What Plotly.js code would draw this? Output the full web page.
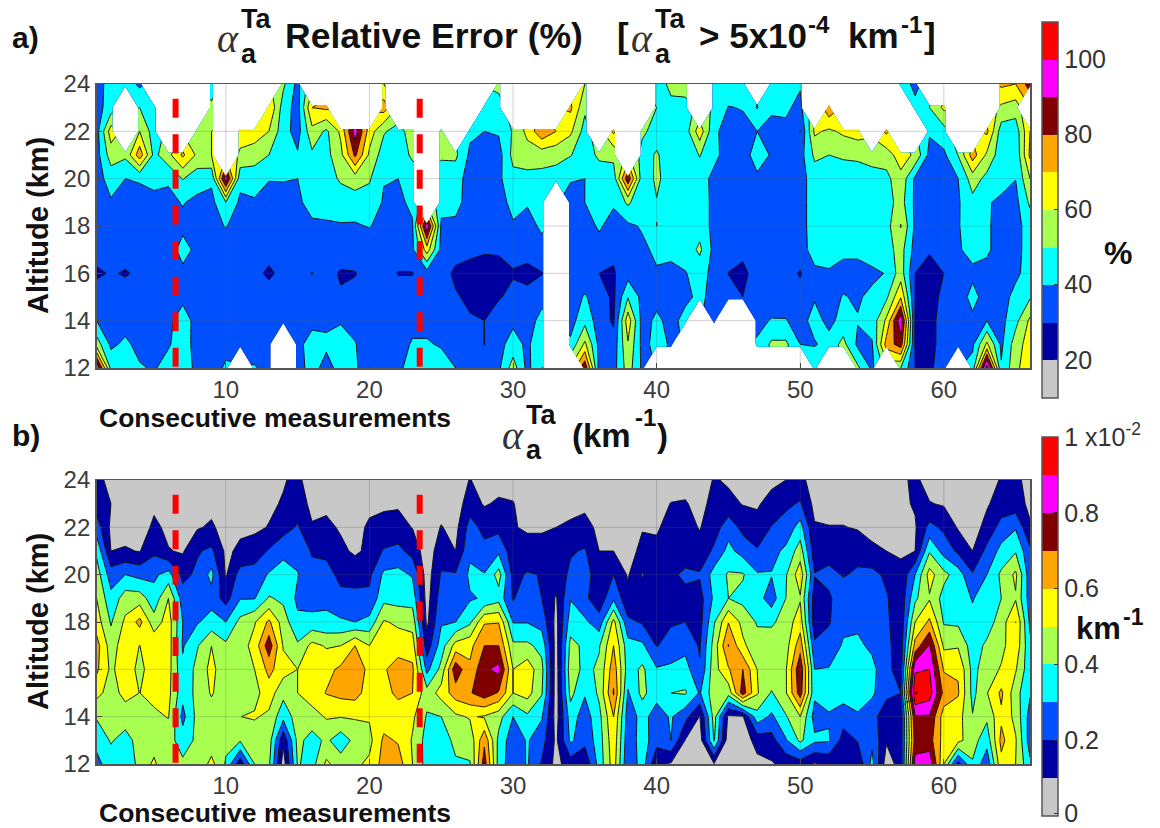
<!DOCTYPE html>
<html><head><meta charset="utf-8">
<script src="https://cdn.plot.ly/plotly-3.0.1.min.js"></script>
<style>html,body{margin:0;padding:0;background:#fff}#chart{width:1160px;height:828px}</style>
</head><body><div id="chart"></div>
<script>
const N = null;
const measurements = Array.from({length:66},(_,i)=>i+1);
const altitudes = [12,13,14,15,16,17,18,19,20,21,22,23,24];
const xTicks = [10,20,30,40,50,60];
const yTicks = [12,14,16,18,20,22,24];
const dashedMeasurements = [6.5,23.5];
const dashedAltitudes = [23.38,12];
const arcMeasurements = [57.03,57.4,58];
const arcAltitudes = [14.35,14.63,14.7];
const bandColors = ['#c8c8c8','#0000a0','#0050ff','#00ffff','#a8ff50','#ffff00','#ffa500','#800000','#ff00ff','#ff0000'];
const errTickVals = [20,40,60,80,100];
const extTickVals = [0.06,2,4,6,8,10];
const extTickText = ['0','0.2','0.4','0.6','0.8','1 x10<sup>-2</sup>'];

// Panel a: relative error (%), one row per altitude (measurements 1..66)
const err24=[36,44,45,38,N,N,N,N,45,N, N,N,N,52,37,N,N,N,N,N, 60,N,N,N,N,N,N,N,52,N, N,N,N,N,60,N,N,N,N,44, 53,55,N,44,47,47,N,46,47,41, N,N,N,N,N,N,48,36,N,N, N,N,N,72,70,85];
const err23=[36,45,N,50,45,N,N,N,52,N, N,N,70,45,36,70,72,N,N,N, 75,N,N,N,N,N,N,49,47,N, N,N,N,72,52,N,N,N,N,50, 47,46,N,49,39.5,40.5,50.5,40.5,41.5,37.5, N,78,N,N,N,N,N,44,50,62, N,N,N,58,55,N];
const err22=[36,65,N,60,45,N,N,58,60,N, 65,65,60,44,36,57,48,62,95,65, 51,46,55,N,52,N,42,40,41,51, 63,78,70,62,46,N,72,N,52,46, 45,45,66,42,36,37,40,39,38,29.8, 62,58,62,65,N,72,N,N,41,46, N,N,72,45,44,70];
const err21=[36,55,52,76,47,57,72,58,60,N, 58,55,50,42,41,48,47,57,82,58, 45,44,52,N,52,52,38,35,36,53, 55,54,53,50.5,45,52,53,N,46,51, 45,44,50.5,43,35,35,45,39,36,36, 52,50,51,51.5,52,55,65,58,37,38, 50.5,75,58,44,42,72];
const err20=[36,44,40,41,41,41,50.5,44,42,95, 43,44,40.5,40.5,40,47,47,51,55,51, 40.5,40,44,N,43,44,36,34,38,47, 47,47,46,41,40,44,44,88,43,52, 45,44,45,37,35,35,38,40,36,36, 45,46,46,46,48,47,57,38,35,37, 40,55,47,42,40.2,60];
const err19=[35,39,35,36,39,38,40.5,38,37,50, 38,39,36,37,38,44,46,46,45,46, 39,38,42,N,44,43,36,34,36,43, 40.5,46,N,35,40,43,41,52,42,49.5, 45,45,46,37,35,35,36,36,36,36, 45,46,46,46,46,46,54,38,35,36, 39,47,40.5,39,37,52];
const err18=[35,35,35,35,35,35,38,36,37,40.5, 36,36,35,35,35,38,38,39,39,40.5, 37,36,39,97,38,38,36,35,36,39, 38,41,N,35,37,41,37,38,41,50.1, 45,45,46,37,35,35,35,35,35,36, 45,46,46,46,46,46,60.5,38,35,35, 39,48,41.5,36,37,44];
const err17=[35,35,35,35,35,36,43,38,36,35, 35,35,34,35,35,35,35,35,35,35, 35,35,38,65,37,34,32,31,31,34, 34,38,N,35,36,37,32,35,38,42, 42,44,52,37,34,33,35,35,35,36, 44,44,42,42,45,46,54,36,31,35, 39,43,41.5,36,37,44];
const err16=[28,31,29,32,35,36,38,36,35,34, 33,33,28,33,34,29.7,33,29,29.5,34, 34,29.5,29.5,36,34,28,27,26,27,29, 27,29.5,N,34,34,30,29,36,36,39, 38,39.5,44,37,29.8,27,35,34,34,29, 38,39,37,37,38,40.5,55,30,26,30, 36,38,37,35,38,44];
const err15=[36,36,35,35,36,37,38,36,35,35, 35,35,35,35,35,35,35,31,33,35, 35,35,35,36,33,31,28,25,29,33, 33,37,N,35,41,35,28,49.5,37,37, 37,38,42,37,34,30,36,36,35,34, 39,37,40.5,39,42,48,69,30,25,33, 35,43,36,36,43,49];
const err14=[40,36,36,35,37,38,44,37,36,36, 36,37,38,39,36,38,38,39,37,35, 35,35,37,37,35,33,31,30,36,38, 36,43,N,36,47,35,28.5,66,36,42, 37,43,N,37,N,N,38,40.5,40.5,36, 44,37,44,40.5,44,62,97,29,25,36, 34,38,40,37,47,62];
const err13=[55,38,42,37,36,39,45,36,35,38, 39,37,37,N,38,43,42,45,40.5,35, 35,36,41,41,39,37,35,29.8,37,44, 38,48,N,42,62,37,34,59,37,43, 39,N,N,N,N,N,41,52,52,40, 39,44,53,38,39,74,85,29,26,35, 36,38,62,38,55,65];
const err12=[100,47,45,41,39,44,42,39,37,41, N,40.5,38,N,36,44,36,44,40.5,38, 36,38,44,44,45,40,36,35,38,55, 37,50,N,N,88,36,36,55,38,N, N,N,N,N,N,N,N,N,N,N, 50,N,N,52,38,N,50,30,27,38, N,44,105,41,57,68];

// Panel b: extinction (10^-3 km^-1), one list per measurement, altitudes 24 down to 12
const ext01=[1.3,1.5,2.5,3.8,4.5,5,5.5,6.4,6.2,5.3,4.1,3.3,2.7];
const ext02=[.7,1.0,.8,1.0,2.5,3.3,3.9,4.5,4.8,4.6,4.3,4.1,3.5];
const ext03=[.8,.5,.6,1.1,3.0,4.5,5.2,5.6,5.6,5.3,4.5,3.6,3.3];
const ext04=[.9,.5,.5,.95,2.7,4.5,6.3,4.98,4.7,4.99,4.5,4.4,4.3];
const ext05=[.4,.8,1.2,1.8,2.8,3.4,4.4,5.8,5.6,5.3,4.8,4.5,5.2];
const ext06=[.5,.6,.8,1.05,3.4,5.0,5.5,5.5,5.4,5.3,5.05,4.4,4.0];
const ext07=[.5,.6,.85,.9,1.7,2.5,3.0,2.9,3.2,3.3,2.7,3.5,4.2];
const ext08=[.5,.5,.9,1.9,2.2,2.5,2.9,3.9,4.3,4.3,4.3,4.2,4.2];
const ext09=[.5,.7,1.15,2.2,3.3,2.6,3.4,4.99,5.3,5.1,4.5,4.4,5.3];
const ext10=[.5,.5,.6,.8,.9,1.6,3.0,4.2,4.3,4.4,4.4,4.2,3.9];
const ext11=[.5,.7,.8,1.2,2.4,2.95,4.3,4.5,4.4,4.4,4.99,4.1,1.3];
const ext12=[.5,.6,.8,1.5,2.4,2.95,4.9,5.4,5.0,4.7,5.1,4.4,4.0];
const ext13=[.6,.8,1.05,2.1,3.1,4.1,6.2,7.6,6.3,5.5,4.8,4.5,4.2];
const ext14=[.9,1.1,1.6,2.7,3.5,3.8,4.5,4.9,5.4,4.3,3.3,1.2,.5];
const ext15=[1.3,1.6,2.1,2.7,3.05,2.8,3.2,4.15,5.0,5.0,4.5,4.3,4.1];
const ext16=[.3,.7,1.1,1.9,2.3,2.6,3.3,5.3,5.5,5.5,4.6,3.6,3.6];
const ext17=[.3,.8,1.2,1.75,2.4,2.8,3.2,4.9,5.7,6.05,5.1,4.2,5.2];
const ext18=[.2,.4,.9,1.2,1.7,2.3,3.15,5.0,6.2,6.3,5.05,3.4,4.5];
const ext19=[.2,.3,.6,.85,1.6,2.3,3.0,6.0,6.9,6.4,5.1,4.3,4.8];
const ext20=[.4,.7,1.2,1.2,1.8,2.2,3.3,5.0,5.6,5.5,5.1,4.7,5.2];
const ext21=[.6,.9,1.2,2.1,3.2,3.7,5.1,6.0,5.9,5.7,5.5,6.2,6.4];
const ext22=[.6,.9,1.3,2.3,3.3,3.6,4.8,5.6,6.4,6.2,5.5,5.9,6.5];
const ext23=[.4,.6,.97,1.6,2.9,3.6,4.6,5.5,6.2,6.0,5.2,4.9,5.0];
const ext24=[.4,.5,.5,.5,.5,.6,.8,1.4,2.7,4.4,3.9,3.6,3.6];
const ext25=[.4,.6,1.05,1.5,2.1,2.5,2.9,3.5,4.3,5.4,4.0,3.6,3.5];
const ext26=[.4,.5,.7,1.0,2.1,2.6,3.0,5.4,7.7,6.5,4.8,4.2,3.9];
const ext27=[1.05,1.5,2.4,2.8,3.2,2.9,3.8,5.7,6.2,6.9,5.1,4.3,3.95];
const ext28=[.5,.9,1.7,2.3,3.05,3.1,5.9,7.0,7.8,7.6,4.9,6.8,7.5];
const ext29=[.6,1.15,1.7,2.8,4.4,3.6,5.95,7.0,8.3,6.9,4.4,3.7,3.6];
const ext30=[.6,1.05,1.05,1.4,1.7,1.9,2.95,4.2,5.0,5.0,3.0,2.4,2.3];
const ext31=[.4,.5,.9,1.3,2.1,2.7,2.95,4.2,5.6,5.4,3.8,3.1,3.1];
const ext32=[.3,.5,.9,1.3,1.95,2.0,2.6,3.7,4.3,4.1,3.1,2.4,1.9];
const ext33=[.3,.4,1.0,1.3,1.4,.9,.7,.6,.5,.5,.6,.8,.7];
const ext34=[.4,.6,1.2,1.9,2.2,2.95,3.5,4.3,4.6,4.3,3.5,3.2,1.5];
const ext35=[.4,.8,1.3,2.1,2.6,2.2,3.2,3.8,3.7,3.1,2.5,2.3,1.2];
const ext36=[.3,.5,.8,1.0,1.2,1.4,2.4,3.9,4.2,4.2,3.7,3.5,3.4];
const ext37=[.2,.4,.7,1.0,2.0,2.8,5.3,6.0,6.6,7.1,6.0,5.7,5.5];
const ext38=[.3,.3,.5,.7,.9,1.3,2.2,3.4,3.5,2.9,2.5,2.3,2.1];
const ext39=[.2,.3,.95,1.2,2.1,1.4,1.9,3.2,4.2,4.3,3.3,3.5,3.5];
const ext40=[.1,.4,.9,1.2,1.3,1.5,1.7,1.95,3.1,3.3,2.6,2.4,1.1];
const ext41=[.2,1.05,1.3,1.4,1.8,1.5,1.9,2.4,3.2,4.0,3.1,3.0,.9];
const ext42=[.5,1.1,1.3,1.5,2.2,1.7,2.0,2.7,3.4,4.1,2.3,.95,.5];
const ext43=[.3,.6,.95,1.3,2.1,1.6,1.6,1.9,2.1,2.9,.95,.5,.3];
const ext44=[1.1,1.4,1.5,2.2,3.4,3.2,3.9,4.4,4.6,4.6,4.4,4.1,.95];
const ext45=[.85,1.3,2.6,3.3,4.1,4.0,5.95,7.05,5.9,4.4,.8,.4,.3];
const ext46=[.6,.95,1.7,2.6,4.1,3.7,4.7,5.2,7.0,7.5,.9,.4,.3];
const ext47=[.4,.9,1.3,2.1,3.1,3.4,3.9,4.4,5.0,5.1,3.6,1.4,.7];
const ext48=[.8,1.3,2.05,2.7,3.05,2.5,3.8,4.7,4.9,3.9,2.8,1.6,.9];
const ext49=[1.0,1.8,2.4,3.2,3.9,4.0,4.5,4.6,4.9,4.9,3.9,2.9,1.3];
const ext50=[1.3,2.1,3.4,4.5,5.6,4.9,5.5,6.6,7.8,7.5,5.0,4.2,1.5];
const ext51=[.5,.7,1.1,1.4,2.05,1.5,1.4,2.2,3.0,3.2,2.6,3.2,.9];
const ext52=[.3,.5,1.05,1.7,2.2,1.9,1.9,2.5,3.05,3.4,2.9,3.1,1.2];
const ext53=[.2,.5,1.05,1.8,1.95,2.4,2.8,3.1,3.6,3.5,2.4,1.6,1.0];
const ext54=[.2,.5,.9,1.8,2.1,2.4,2.8,3.2,3.6,3.4,2.9,2.05,1.2];
const ext55=[.2,.3,.7,1.2,2.3,2.5,2.6,2.8,3.3,3.2,2.3,2.8,3.3];
const ext56=[.2,.3,.6,1.0,1.8,2.1,2.2,2.3,2.3,2.2,1.5,1.1,.5];
const ext57=[.8,.8,.9,.9,1.2,1.3,1.3,1.4,1.5,2.0,1.3,1.5,1.4];
const ext58=[1.2,1.1,.9,1.0,3.0,3.8,5.0,6.4,8.8,10.1,7.9,7.4,8.4];
const ext59=[.6,1.05,2.3,3.9,5.4,4.9,6.2,8.1,9.0,9.5,7.9,7.4,8.7];
const ext60=[.5,.9,1.8,2.6,4.3,3.6,3.9,4.8,5.9,6.7,5.5,5.6,5.0];
const ext61=[.3,.6,.9,1.8,3.5,3.4,3.8,4.9,5.9,6.1,5.4,5.3,1.6];
const ext62=[.2,.4,.6,1.0,2.1,2.95,3.2,3.5,3.7,3.7,4.05,4.4,3.9];
const ext63=[.5,.9,1.3,2.3,3.0,3.4,3.5,4.2,4.5,4.95,4.2,3.4,2.3];
const ext64=[1.1,1.4,2.4,3.3,4.2,4.0,4.5,4.7,5.1,6.2,5.8,6.3,5.7];
const ext65=[1.2,1.4,2.9,3.9,5.2,4.9,6.01,5.7,5.1,4.4,4.7,5.1,5.0];
const ext66=[.7,.8,1.1,2.2,2.4,2.5,2.8,3.2,3.3,3.1,2.6,2.5,3.2];

const errZ=[err12,err13,err14,err15,err16,err17,err18,err19,err20,err21,err22,err23,err24];
const extCols=[ext01,ext02,ext03,ext04,ext05,ext06,ext07,ext08,ext09,ext10,ext11,ext12,ext13,ext14,ext15,ext16,ext17,ext18,ext19,ext20,ext21,ext22,ext23,ext24,ext25,ext26,ext27,ext28,ext29,ext30,ext31,ext32,ext33,ext34,ext35,ext36,ext37,ext38,ext39,ext40,ext41,ext42,ext43,ext44,ext45,ext46,ext47,ext48,ext49,ext50,ext51,ext52,ext53,ext54,ext55,ext56,ext57,ext58,ext59,ext60,ext61,ext62,ext63,ext64,ext65,ext66];
const extZ=altitudes.map((_,r)=>extCols.map(c=>c[12-r]));

const W=1160,H=828;
const sans='"Liberation Sans", Arial, sans-serif', serif='"Liberation Serif", serif';
const px=x=>x/W, py=y=>1-y/H;
const stepScale=bandColors.flatMap((c,i)=>[[i/10,c],[(i+1)/10,c]]);

function contourFill(z,xa,ya,start,size,cbTop,tv,tt){
  return {type:'contour',x:measurements,y:altitudes,z:z,xaxis:xa,yaxis:ya,
    zmin:start-size,zmax:start+9*size,zauto:false,autocontour:false,connectgaps:false,
    contours:{start:start,end:start+8*size,size:size,coloring:'fill',showlines:false},
    colorscale:stepScale,line:{width:0,smoothing:0},hoverinfo:'skip',
    colorbar:{x:px(1042),xanchor:'left',y:py(cbTop),yanchor:'top',lenmode:'pixels',
      len:size==10?375.5:379,thicknessmode:'pixels',thickness:16,xpad:0,ypad:0,
      outlinecolor:'#555',outlinewidth:1.5,tickvals:tv,ticktext:tt,ticks:'inside',ticklen:4,tickcolor:'#333',
      tickfont:{family:sans,size:25,color:'#333'}}};
}
function contourLines(z,xa,ya,start,size){
  return {type:'contour',x:measurements,y:altitudes,z:z,xaxis:xa,yaxis:ya,showscale:false,
    autocontour:false,connectgaps:false,contours:{start:start,end:start+9*size,size:size,coloring:'none',showlines:true},
    line:{color:'#151515',width:1,smoothing:0},hoverinfo:'skip'};
}
const traces=[
  contourFill(errZ,'x','y',20,10,21.5,errTickVals,errTickVals.map(String)),
  contourLines(errZ,'x','y',20,10),
  contourFill(extZ,'x2','y2',1,1,437,extTickVals,extTickText),
  contourLines(extZ,'x2','y2',1,1),
  {type:'scatter',mode:'lines',x:arcMeasurements,y:arcAltitudes,xaxis:'x2',yaxis:'y2',
    line:{color:'#151515',width:1},hoverinfo:'skip',showlegend:false}
];
dashedMeasurements.forEach(m=>{
  ['',"2"].forEach(s=>traces.push({type:'scatter',mode:'lines',x:[m,m],y:dashedAltitudes,xaxis:'x'+s,yaxis:'y'+s,
    line:{color:'#ff0000',width:6,dash:'19px,16.6px'},hoverinfo:'skip',showlegend:false}));
});

const axBase={showline:true,mirror:true,linecolor:'#555',linewidth:1.5,ticks:'inside',ticklen:5,tickcolor:'#444',
  tickfont:{family:sans,size:24,color:'#3c3c3c'},showgrid:false,zeroline:false,tickmode:'array',layer:'above traces'};
const xAxis=(anchor)=>Object.assign({},axBase,{domain:[px(96.6),px(1030)],range:[1,66],anchor:anchor,tickvals:xTicks,ticktext:xTicks.map(String)});
const yAxis=(anchor,t,b)=>Object.assign({},axBase,{domain:[py(b),py(t)],range:[12,24],anchor:anchor,tickvals:yTicks,ticktext:yTicks.map(String)});

const shapes=[];
[['x','y'],['x2','y2']].forEach(([xr,yr])=>{
  const g={color:'rgba(90,90,90,0.28)',width:1};
  xTicks.forEach(v=>shapes.push({type:'line',layer:'above',xref:xr,yref:yr,x0:v,x1:v,y0:12,y1:24,line:g}));
  yTicks.slice(1,-1).forEach(v=>shapes.push({type:'line',layer:'above',xref:xr,yref:yr,x0:1,x1:66,y0:v,y1:v,line:g}));
});

const note=(text,x,y,size,o={})=>Object.assign({xref:'paper',yref:'paper',x:px(x),y:py(y),text:text,showarrow:false,
  xanchor:'left',yanchor:'middle',font:{family:sans,size:size,color:'#111'}},o);
const b=t=>'<b>'+t+'</b>';
const alpha=(x,y)=>[
  note('<i>α</i>',x,y,40,{font:{family:serif,size:40,color:'#333'}}),
  note(b('Ta'),x+24,y-20,27),
  note(b('a'),x+24,y+15,27)
];
const annotations=[
  note(b('a)'),10,38,30),
  note(b('b)'),10,435,30),
  ...alpha(215,39),
  note(b('Relative Error (%)'),283,36,35.5),
  note(b('['),615,36,35),
  ...alpha(629,39),
  note(b('&gt; 5x10'),697,36,35),
  note(b('-4'),806,24,24),
  note(b('km'),846,36,35),
  note(b('-1'),899,24,24),
  note(b(']'),922,36,35),
  ...alpha(500,435),
  note(b('(km'),570,435,33),
  note(b('-1'),633,417,24),
  note(b(')'),655,435,33),
  note(b('Consecutive measurements'),97,418,26.5),
  note(b('Consecutive measurements'),97,813,26.5),
  note(b('Altitude (km)'),38,226,29,{textangle:-90,xanchor:'center'}),
  note(b('Altitude (km)'),38,622,29,{textangle:-90,xanchor:'center'}),
  note(b('%'),1118,253,32,{xanchor:'center'}),
  note(b('km'),1074,628,31),
  note(b('-1'),1121,617,23)
];

const layout={width:W,height:H,margin:{l:0,r:0,t:0,b:0},paper_bgcolor:'#fff',plot_bgcolor:'#fff',showlegend:false,
  xaxis:xAxis('y'),yaxis:yAxis('x',84,368),xaxis2:xAxis('y2'),yaxis2:yAxis('x2',480,764),shapes:shapes,annotations:annotations};
Plotly.newPlot('chart',traces,layout,{displayModeBar:false,staticPlot:true});
</script></body></html>
